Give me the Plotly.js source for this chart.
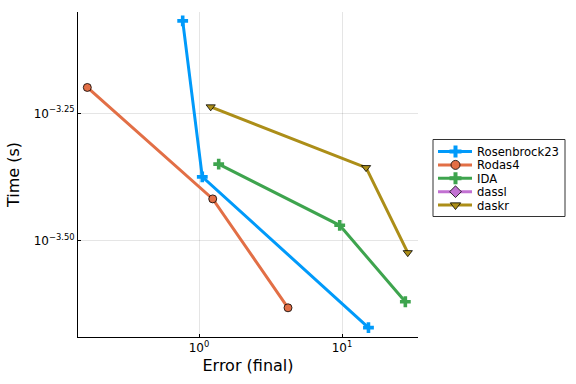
<!DOCTYPE html>
<html><head><meta charset="utf-8">
<script src="https://cdn.plot.ly/plotly-3.0.1.min.js"></script>
<style>html,body{margin:0;padding:0;background:#fff}#chart{width:576px;height:384px}</style>
</head><body><div id="chart"></div>
<script>
const seriesNames = ["Rosenbrock23", "Rodas4", "IDA", "dassl", "daskr"];
const rosenbrockErr = [0.769, 1.054, 15.3];
const rosenbrockTime = [0.000854, 0.000422, 0.0002135];
const rodasErr = [0.1656, 1.247, 4.19];
const rodasTime = [0.000632, 0.000382, 0.0002335];
const idaErr = [1.373, 9.63, 27.7];
const idaTime = [0.000447, 0.000339, 0.00024];
const dasslErr = [];
const dasslTime = [];
const daskrErr = [1.207, 14.72, 28.8];
const daskrTime = [0.000579, 0.00044, 0.0002996];
const xTickVals = [1, 10];
const xTickText = ["10<sup>0</sup>", "10<sup>1</sup>"];
const yTickVals = [Math.pow(10, -3.25), Math.pow(10, -3.5)];
const yTickText = ["10<sup>\u22123.25</sup>", "10<sup>\u22123.50</sup>"];

const colors = ["#009AFA", "#E26F46", "#3EA44E", "#C271D2", "#AC8E18"];
const symbols = ["cross", "circle", "cross", "diamond", "triangle-down"];
const xs = [rosenbrockErr, rodasErr, idaErr, dasslErr, daskrErr];
const ys = [rosenbrockTime, rodasTime, idaTime, dasslTime, daskrTime];

function markerFor(i, size) {
  const isCross = symbols[i] === "cross";
  return {symbol: symbols[i], color: colors[i], size: size,
          line: {color: isCross ? colors[i] : "#000", width: isCross ? 0 : 0.8}};
}

const traces = seriesNames.map((n, i) => ({
  x: xs[i], y: ys[i], name: n, type: "scatter", mode: "lines+markers",
  showlegend: false,
  line: {color: colors[i], width: 3},
  marker: markerFor(i, symbols[i] === "cross" ? 9 : 8)
}));

// custom legend drawn in pixel space (xaxis2/yaxis2 span the whole page)
const W = 576, H = 384;
const legBox = {x0: 433, x1: 565, y0: 139.5, y1: 216.5};
const rowY0 = 151.5, rowStep = 13.4;
const annotations = [];
const shapes = [{type: "rect", xref: "x2", yref: "y2", x0: legBox.x0, x1: legBox.x1,
                 y0: legBox.y0, y1: legBox.y1, line: {color: "#333", width: 1}, fillcolor: "#fff", layer: "below"}];
seriesNames.forEach((n, i) => {
  const yy = rowY0 + i * rowStep;
  traces.push({x: [438, 472], y: [yy, yy], xaxis: "x2", yaxis: "y2", type: "scatter", mode: "lines",
               showlegend: false, hoverinfo: "skip", line: {color: colors[i], width: 3}});
  traces.push({x: [455.5], y: [yy], xaxis: "x2", yaxis: "y2", type: "scatter", mode: "markers",
               showlegend: false, hoverinfo: "skip", marker: markerFor(i, symbols[i] === "cross" ? 10 : 9)});
  annotations.push({xref: "x2", yref: "y2", x: 475, y: yy + 0.5, text: n, showarrow: false,
                    xanchor: "left", yanchor: "middle", font: {size: 11.6, color: "#000"}});
});

const layout = {
  width: W, height: H,
  margin: {l: 0, r: 0, t: 0, b: 0},
  paper_bgcolor: "#fff", plot_bgcolor: "rgba(0,0,0,0)",
  font: {family: "DejaVu Sans, sans-serif", color: "#000"},
  showlegend: false,
  annotations: annotations, shapes: shapes,
  xaxis: {type: "log", range: [-0.846, 1.531], domain: [78 / W, 418 / W],
          tickvals: xTickVals, ticktext: xTickText, anchor: "y",
          showline: true, linecolor: "#000", linewidth: 1, mirror: false,
          showgrid: true, gridcolor: "rgba(0,0,0,0.1)", zeroline: false,
          ticks: "inside", ticklen: 3, tickcolor: "#000", tickfont: {size: 12},
          automargin: false,
          title: {text: "Error (final)", font: {size: 16}, standoff: 5}},
  yaxis: {type: "log", range: [-3.689, -3.0512], domain: [(H - 337) / H, (H - 12) / H],
          tickvals: yTickVals, ticktext: yTickText, anchor: "x",
          showline: true, linecolor: "#000", linewidth: 1, mirror: false,
          showgrid: true, gridcolor: "rgba(0,0,0,0.1)", zeroline: false,
          ticks: "inside", ticklen: 3, tickcolor: "#000", tickfont: {size: 12},
          automargin: false,
          title: {text: "Time (s)", font: {size: 16}, standoff: 10}},
  xaxis2: {domain: [0, 1], range: [0, W], visible: false, fixedrange: true, anchor: "y2"},
  yaxis2: {domain: [0, 1], range: [H, 0], visible: false, fixedrange: true, anchor: "x2"}
};
Plotly.newPlot("chart", traces, layout, {displayModeBar: false, staticPlot: true});
</script></body></html>
